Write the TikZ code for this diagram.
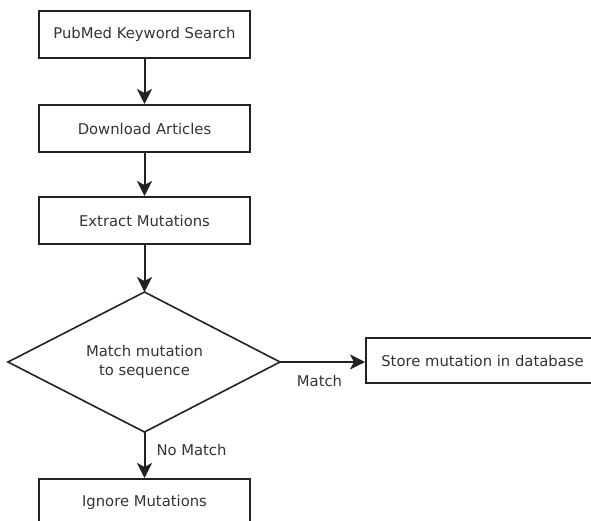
\documentclass[tikz,border=0pt]{standalone}
\usepackage{fontspec}
\setmainfont{DejaVu Sans}
\usetikzlibrary{arrows.meta}
\definecolor{ink}{HTML}{222222}
\definecolor{txt}{HTML}{333333}
\begin{document}
\begin{tikzpicture}[x=1pt,y=-1pt,
  font=\fontsize{14.8}{19}\selectfont,
  stepbox/.style={draw=ink, line width=2pt, text=txt, minimum width=211pt, minimum height=47pt, inner sep=0pt, anchor=center},
  decision/.style={draw=ink, line width=1.6pt, line join=miter},
  flow/.style={draw=ink, line width=2pt, -{Stealth[length=15pt,width=15pt,inset=4pt]}},
  lbl/.style={text=txt, inner sep=0pt}
]
\useasboundingbox (0,0) rectangle (591,520);
\clip (0,0) rectangle (591,520);
\node[stepbox] (search) at (144.5,34.5) {PubMed Keyword Search};
\node[stepbox] (download) at (144.5,128.5) {Download Articles};
\node[stepbox] (extract) at (144.5,220.5) {Extract Mutations};
% decision diamond, corners named for the connectors
\coordinate (mtop) at (144.5,292);
\coordinate (mright) at (280,362);
\coordinate (mbottom) at (144.5,432);
\coordinate (mleft) at (8,362);
\draw[decision] (mtop) -- (mright) -- (mbottom) -- (mleft) -- cycle;
\node[text=txt, align=center, inner sep=0pt] (match) at (144.5,362) {Match mutation\\to sequence};
\node[stepbox, minimum width=233pt, minimum height=45pt] (store) at (482.5,360.5) {Store mutation in database};
\node[stepbox] (ignore) at (144.5,502.5) {Ignore Mutations};
\draw[flow] (search) -- (download);
\draw[flow] (download) -- (extract);
\draw[flow] (extract) -- (mtop);
\draw[flow] (mright) -- (store.west |- mright) node[lbl, midway, below=12pt, xshift=-3pt] (matchlbl) {Match};
\draw[flow] (mbottom) -- (ignore.north) node[lbl, midway, right=11pt, yshift=5pt] (nomatchlbl) {No Match};
\end{tikzpicture}
\end{document}
